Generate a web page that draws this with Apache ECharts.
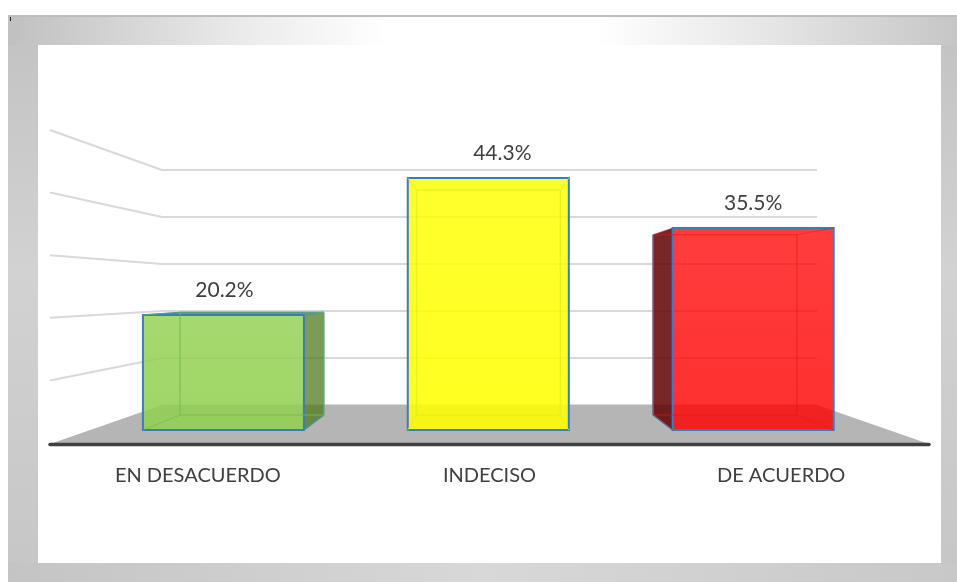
<!DOCTYPE html>
<html>
<head>
<meta charset="utf-8">
<style>
  html, body { margin: 0; padding: 0; background: #fff; }
  #chart { width: 957px; height: 582px; }
</style>
<script src="https://cdn.jsdelivr.net/npm/echarts@6/dist/echarts.min.js"></script>
</head>
<body>
<div id="chart"></div>
<script>
const categories = ['EN DESACUERDO', 'INDECISO', 'DE ACUERDO']
const percentages = [20.2, 44.3, 35.5]
const wallTicks = [0, 10, 20, 30, 40, 50]

const faceRgb = ['146,208,80', '255,255,0', '255,0,0']
const faceAlpha = [0.85, 0.85, 0.79]
const sideColors = ['rgba(79,122,31,0.75)', 'rgba(120,120,0,0.75)', 'rgba(100,0,0,0.85)']
const edgeColors = ['rgba(110,185,85,0.6)', 'rgba(225,240,20,0.7)', 'rgba(235,20,20,0.45)']
const labelNudge = [1, 14, 0]

const OUTLINE = '#3a7dbf'
const INK = '#404040'
const VP = [490, 290]       // vanishing point of the bar depth
const DEPTH = 0.893         // how much a bar's back face shrinks

// front edge of the floor and side walls, in pixels
const front = { left: 50, right: 929, top: 130, bottom: 443 }

function frontY(v) {
  return front.bottom - (v / 50) * (front.bottom - front.top)
}

function toBack(p) {
  return [VP[0] + (p[0] - VP[0]) * DEPTH, VP[1] + (p[1] - VP[1]) * DEPTH]
}

function renderFloor(params) {
  const c = params.coordSys
  const by = c.y + c.height
  return {
    type: 'group',
    children: [
      {
        type: 'polygon',
        shape: { points: [[front.left, front.bottom + 1], [c.x, by], [c.x + c.width, by], [front.right, front.bottom + 1]] },
        style: { fill: '#b5b5b5' },
      },
      {
        type: 'line',
        shape: { x1: front.left, y1: front.bottom + 1.5, x2: front.right, y2: front.bottom + 1.5 },
        style: { stroke: '#404040', lineWidth: 3.5, lineCap: 'round' },
      },
    ],
  }
}

// the part of each gridline running along the left wall
function renderWallLine(params, api) {
  const v = api.value(0)
  const back = api.coord([0, v])
  return {
    type: 'line',
    shape: { x1: front.left, y1: frontY(v), x2: params.coordSys.x, y2: back[1] },
    style: { stroke: '#d9d9d9', lineWidth: 2 },
  }
}

function renderBar(params, api) {
  const i = params.dataIndex
  const value = api.value(1)
  const top = api.coord([i, value])
  const base = api.coord([i, 0])
  const half = api.size([1, 0])[0] * 0.304

  const fl = [top[0] - half, top[1]]
  const fr = [top[0] + half, top[1]]
  const br = [top[0] + half, base[1]]
  const bl = [top[0] - half, base[1]]
  const [tl2, tr2, br2, bl2] = [fl, fr, br, bl].map(toBack)

  const children = []
  const poly = (points, fill) => ({
    type: 'polygon',
    shape: { points },
    style: { fill, stroke: null },
  })
  const seg = (a, b, stroke, lineWidth) => ({
    type: 'line',
    shape: { x1: a[0], y1: a[1], x2: b[0], y2: b[1] },
    style: { stroke, lineWidth },
  })

  // side face that sticks out past the front
  if (tr2[0] > fr[0]) {
    children.push(poly([fr, tr2, br2, br], sideColors[i]))
    children.push(seg(tr2, br2, OUTLINE, 1), seg(br2, br, OUTLINE, 1.5))
  }
  if (tl2[0] < fl[0]) {
    children.push(poly([fl, tl2, bl2, bl], sideColors[i]))
    children.push(seg(tl2, bl2, OUTLINE, 1.5), seg(bl2, bl, OUTLINE, 1.5))
  }
  if (tl2[1] < fl[1]) {
    children.push(poly([fl, tl2, tr2, fr], sideColors[i]))
    children.push(seg(fl, tl2, OUTLINE, 1.5), seg(tl2, tr2, OUTLINE, 1.5), seg(tr2, fr, OUTLINE, 1.5))
  }

  // front face
  children.push({
    type: 'rect',
    shape: { x: fl[0], y: fl[1], width: half * 2, height: bl[1] - fl[1] },
    style: {
      fill: new echarts.graphic.LinearGradient(0, 0, 0, 1, [
        { offset: 0, color: `rgba(${faceRgb[i]},${faceAlpha[i] - 0.03})` },
        { offset: 1, color: `rgba(${faceRgb[i]},${faceAlpha[i] + 0.03})` },
      ]),
      stroke: OUTLINE,
      lineWidth: 2,
    },
  })

  // inner edges seen through the front
  const e = edgeColors[i]
  children.push(
    seg(tl2, tr2, e, 1.5), seg(tr2, br2, e, 1.5), seg(br2, bl2, e, 1.5), seg(bl2, tl2, e, 1.5),
    seg(fl, tl2, e, 1), seg(fr, tr2, e, 1), seg(bl, bl2, e, 1), seg(br, br2, e, 1)
  )

  children.push({
    type: 'text',
    style: {
      text: value.toFixed(1) + '%',
      x: top[0] + labelNudge[i],
      y: top[1] - 25,
      align: 'center',
      verticalAlign: 'middle',
      fill: INK,
      font: '21px Lato',
    },
  })

  return { type: 'group', children }
}

function sideStrip(x, width) {
  return {
    type: 'rect', z: -5,
    shape: { x, y: 17, width, height: 565 },
    style: { fill: new echarts.graphic.LinearGradient(0, 0, 0, 1, [
      { offset: 0, color: '#c2c2c2' },
      { offset: 0.45, color: '#d2d2d2' },
      { offset: 1, color: '#c6c6c6' },
    ]) },
  }
}

function wallAxes() {
  const hidden = { axisLine: { show: false }, axisTick: { show: false }, axisLabel: { show: false } }
  return [
    { gridIndex: 0, type: 'value', min: 0, max: 50, interval: 10, ...hidden,
      splitLine: { show: true, lineStyle: { color: '#d9d9d9', width: 2 } } },
    { gridIndex: 1, type: 'value', min: 0, max: 50, interval: 10, ...hidden, splitLine: { show: false } },
    { gridIndex: 2, type: 'value', min: 0, max: 50, interval: 10, ...hidden, splitLine: { show: false } },
  ]
}

const chart = echarts.init(document.getElementById('chart'), null, { renderer: 'canvas' })

chart.setOption({
  animation: false,
  backgroundColor: '#fff',
  graphic: [
    // grey frame round the white plot area
    { type: 'rect', z: -5, shape: { x: 8, y: 15, width: 949, height: 2 }, style: { fill: '#bcbcbc' } },
    sideStrip(8, 30),
    sideStrip(941, 16),
    { type: 'rect', z: -5, shape: { x: 8, y: 17, width: 949, height: 28 },
      style: { fill: new echarts.graphic.LinearGradient(0, 0, 1, 0, [
        { offset: 0, color: '#c0c0c0' },
        { offset: 0.25, color: '#ebebeb' },
        { offset: 0.4, color: '#ffffff' },
        { offset: 0.62, color: '#ffffff' },
        { offset: 0.8, color: '#e6e6e6' },
        { offset: 1, color: '#c6c6c6' },
      ]) } },
    { type: 'rect', z: -5, shape: { x: 8, y: 563, width: 949, height: 19 },
      style: { fill: new echarts.graphic.LinearGradient(0, 0, 1, 0, [
        { offset: 0, color: '#c4c4c4' },
        { offset: 0.5, color: '#d8d8d8' },
        { offset: 1, color: '#c8c8c8' },
      ]) } },
    { type: 'rect', z: -3, shape: { x: 10, y: 17, width: 1, height: 4 }, style: { fill: '#222' } },
  ],
  grid: [
    // back wall
    { left: 162, right: 140, top: 170, bottom: 177 },
    // plane of the bars' front faces
    { left: 91, right: 71.4, top: 145.5, bottom: 152 },
    // front edge of the floor, carries the category labels
    { left: front.left + 2, right: 957 - front.right + 2, top: front.top, bottom: 582 - front.bottom },
  ],
  xAxis: [
    { gridIndex: 0, type: 'category', data: categories, axisLine: { show: false }, axisTick: { show: false }, axisLabel: { show: false } },
    { gridIndex: 1, type: 'category', data: categories, axisLine: { show: false }, axisTick: { show: false }, axisLabel: { show: false } },
    {
      gridIndex: 2,
      type: 'category',
      data: categories,
      axisLine: { show: false },
      axisTick: { show: false },
      axisLabel: { color: INK, fontFamily: 'Lato', fontSize: 20, margin: 23 },
    },
  ],
  yAxis: wallAxes(),
  series: [
    { type: 'custom', xAxisIndex: 0, yAxisIndex: 0, data: [0], renderItem: renderFloor, silent: true, z: 1, clip: false },
    { type: 'custom', xAxisIndex: 0, yAxisIndex: 0, data: wallTicks.slice(1), renderItem: renderWallLine, silent: true, z: 2, clip: false,
      encode: { y: 0 } },
    { type: 'custom', xAxisIndex: 1, yAxisIndex: 1, data: percentages.map((p, i) => [i, p]), renderItem: renderBar, silent: true, z: 5, clip: false,
      encode: { x: 0, y: 1 } },
  ],
})
</script>
</body>
</html>
